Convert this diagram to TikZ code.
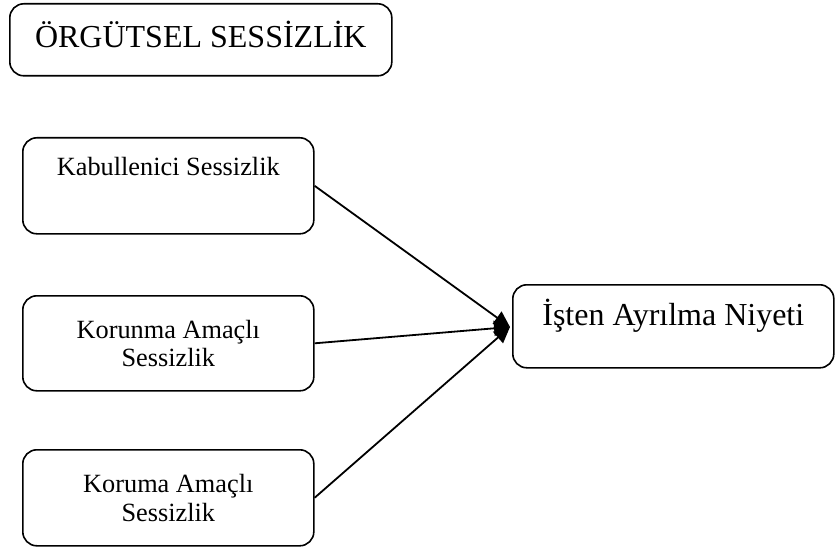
\documentclass[tikz,border=0pt]{standalone}
\usepackage{fontspec}
\setmainfont{Liberation Serif}
\usetikzlibrary{arrows.meta}
\begin{document}
\begin{tikzpicture}[x=1pt,y=-1pt,
  box/.style={draw, line width=1.6pt, rounded corners=14pt, inner sep=0pt,
    anchor=north west, align=center},
  bigtext/.style={font=\fontsize{32}{36}\selectfont},
  smalltext/.style={font=\fontsize{26.3}{28.5}\selectfont},
  link/.style={line width=1.8pt, -{Triangle[length=16pt,width=15pt]}}]
  \useasboundingbox (0,0) rectangle (835,548);

  % heading box
  \node[box, bigtext, minimum width=382pt, text height=44pt, text depth=28pt]
    (title) at (9,3) {ÖRGÜTSEL SESSİZLİK};

  % the three kinds of silence
  \node[box, smalltext, minimum width=291pt, text height=38pt, text depth=58pt]
    (kab) at (22,137) {Kabullenici Sessizlik};
  \node[box, smalltext, minimum width=291pt, minimum height=95pt]
    (korunma) at (22,295) {Korunma Amaçlı\\Sessizlik};
  \node[box, smalltext, minimum width=291pt, minimum height=96pt]
    (koruma) at (22,449) {Koruma Amaçlı\\Sessizlik};

  % outcome
  \node[box, bigtext, minimum width=321pt, text height=41pt, text depth=42pt]
    (niyet) at (512,284) {İşten Ayrılma Niyeti};

  \coordinate (tip) at (510,327);
  \draw[link] (kab.east) -- (tip);
  \draw[link] (korunma.east) -- (tip);
  \draw[link] (koruma.east) -- (tip);
\end{tikzpicture}
\end{document}
